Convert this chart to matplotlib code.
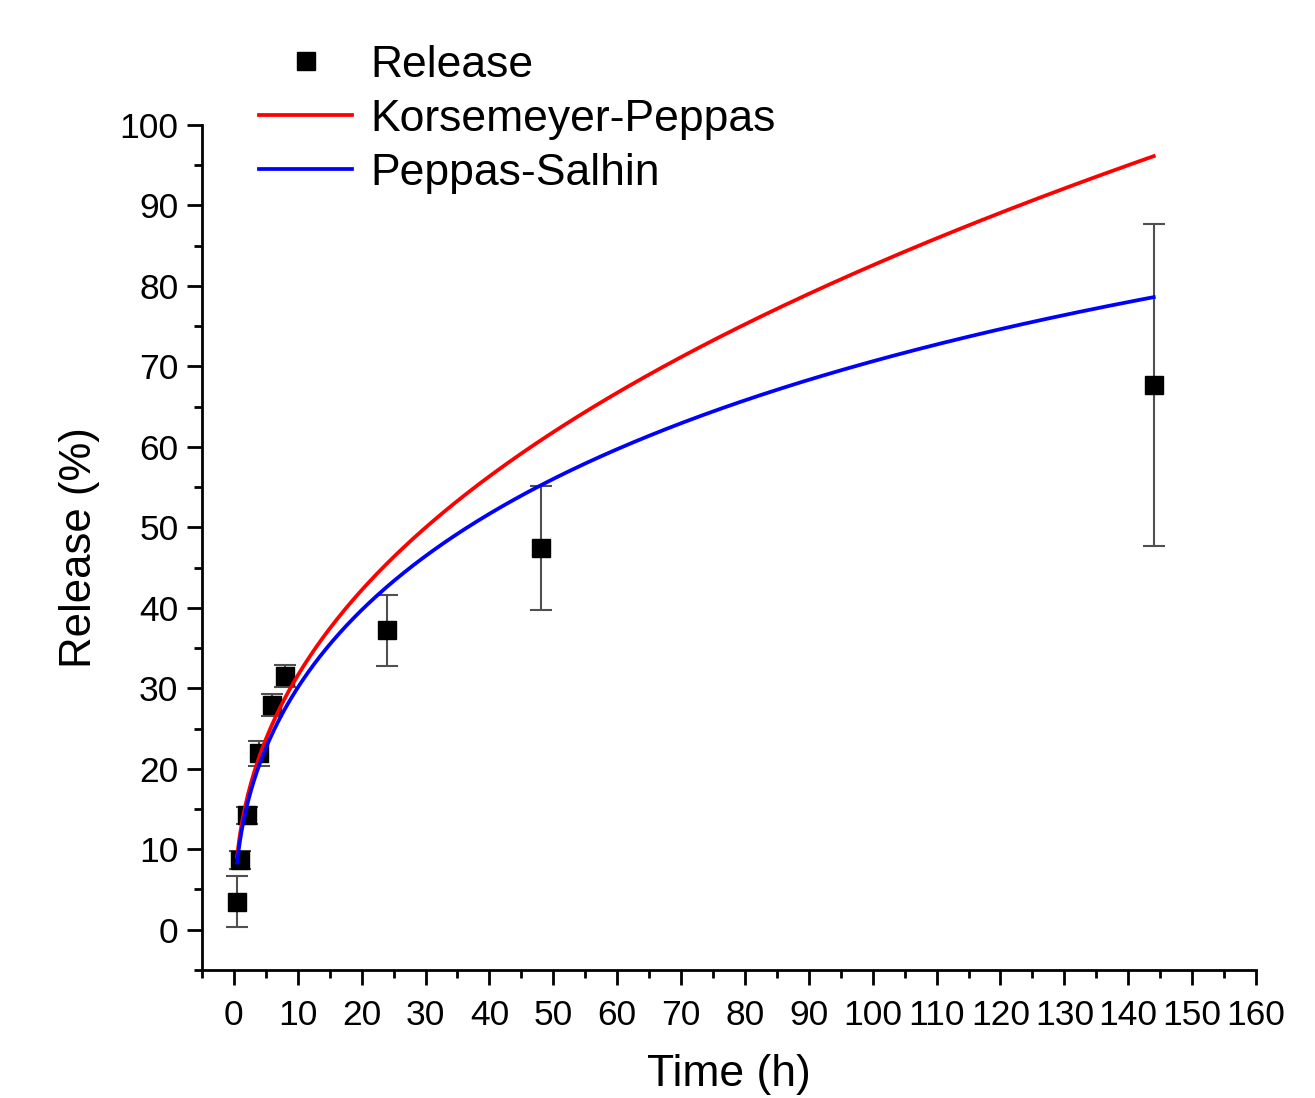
import numpy as np
import matplotlib
matplotlib.use("Agg")
import matplotlib.pyplot as plt
from matplotlib.ticker import MultipleLocator
from matplotlib.lines import Line2D

plt.rcParams['font.family'] = ['Liberation Sans', 'DejaVu Sans']

# Measured release data
time_h = [0.5, 1, 2, 4, 6, 8, 24, 48, 144]
release = [3.5, 8.7, 14.2, 21.9, 27.9, 31.5, 37.2, 47.4, 67.7]
release_err = [3.2, 1.1, 1.0, 1.6, 1.4, 1.4, 4.4, 7.7, 20.0]

# Model fit parameters
kp_k, kp_n = 12.1, 0.417                 # Korsmeyer-Peppas: k t^n
ps_k1, ps_k2, ps_m = 11.66, -0.3485, 0.45  # Peppas-Sahlin: k1 t^m + k2 t^2m
t_fit_start, t_fit_end = 0.5, 144

t_fit = np.linspace(t_fit_start, t_fit_end, 600)
kp_curve = kp_k * t_fit ** kp_n
ps_curve = ps_k1 * t_fit ** ps_m + ps_k2 * t_fit ** (2 * ps_m)

fig = plt.figure(figsize=(13.15, 10.98), dpi=100)
ax = fig.add_axes([0.1536, 0.1166, 0.8015, 0.7696])

ax.errorbar(time_h, release, yerr=release_err, fmt='s', color='black',
            ecolor='#505050', elinewidth=1.5, capsize=8, capthick=1.5,
            markersize=13, zorder=3)
l_kp, = ax.plot(t_fit, kp_curve, color='#ff0000', lw=2.7, zorder=4)
l_ps, = ax.plot(t_fit, ps_curve, color='#0000ff', lw=2.7, zorder=5)

ax.set_xlim(-5, 160)
ax.set_ylim(-5, 100)
ax.spines['top'].set_visible(False)
ax.spines['right'].set_visible(False)
for s in ('left', 'bottom'):
    ax.spines[s].set_linewidth(2)
ax.xaxis.set_major_locator(MultipleLocator(10))
ax.xaxis.set_minor_locator(MultipleLocator(5))
ax.yaxis.set_major_locator(MultipleLocator(10))
ax.yaxis.set_minor_locator(MultipleLocator(5))
ax.set_yticks(np.arange(0, 101, 10))
ax.tick_params(which='major', direction='out', length=11, width=2, labelsize=25.5)
ax.tick_params(axis='x', which='major', pad=10)
ax.tick_params(axis='y', which='major', pad=6)
ax.tick_params(which='minor', direction='out', length=6, width=2)

ax.set_xlabel('Time (h)', fontsize=32, labelpad=16)
ax.set_ylabel('Release (%)', fontsize=31.5, labelpad=14)

h_rel = Line2D([], [], marker='s', color='black', linestyle='none', markersize=13)
fig.legend([h_rel, l_kp, l_ps], ['Release', 'Korsemeyer-Peppas', 'Peppas-Salhin'],
           loc='upper left', bbox_to_anchor=(0.197, 0.959), frameon=False,
           fontsize=32, handlelength=2.1, handletextpad=0.4, labelspacing=0.29,
           borderpad=0, borderaxespad=0)

fig.savefig('out.png', dpi=100)
